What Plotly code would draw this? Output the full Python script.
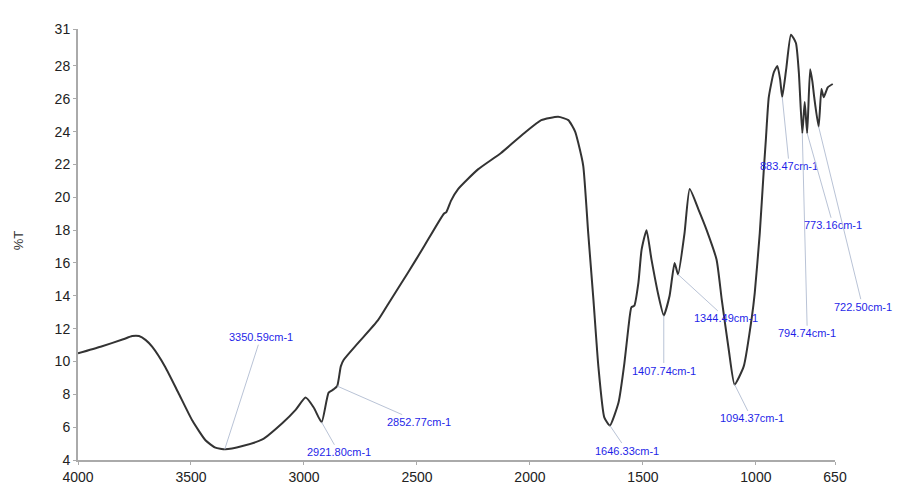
import numpy as np
import plotly.graph_objects as go

# Spectrum (wavenumber in cm-1, %T)
wavenumber = [4000, 3900, 3800, 3760, 3730, 3700, 3672, 3614, 3556, 3494, 3436, 3392, 3348,
              3272, 3184, 3095, 3037, 2993, 2957, 2921.8, 2891, 2869, 2852.77, 2837, 2824,
              2762, 2673, 2616, 2540, 2469, 2381, 2370, 2349, 2318, 2230, 2128, 2026, 1950,
              1875, 1830, 1800, 1786, 1764, 1742, 1719, 1697, 1671, 1646.33, 1608, 1582,
              1564, 1551, 1538, 1520, 1506, 1484, 1462, 1431, 1407.74, 1382, 1360, 1344.49,
              1316, 1293, 1254, 1218, 1174, 1151, 1120, 1094.37, 1054, 1018, 1005, 983, 965,
              956, 943, 921, 905, 893, 883.47, 866, 845, 823, 810, 794.74, 784, 773.16, 760,
              750, 742, 722.50, 710, 700, 682, 660]
transmittance = [10.5, 10.9, 11.35, 11.55, 11.55, 11.3, 10.9, 9.67, 8.1, 6.4, 5.2, 4.75, 4.65,
                 4.85, 5.25, 6.25, 7.05, 7.8, 7.2, 6.3, 8.1, 8.3, 8.5, 9.7, 10.1,
                 11.1, 12.5, 13.75, 15.4, 17.0, 19.0, 19.1, 19.8, 20.5, 21.7, 22.7, 23.9, 24.7,
                 24.9, 24.7, 24.0, 23.3, 21.9, 17.8, 13.75, 9.67, 6.6, 6.1, 7.5, 9.9,
                 12.1, 13.3, 13.4, 14.8, 16.8, 18.0, 16.2, 14.0, 12.8, 14.0, 16.0, 15.3,
                 17.8, 20.5, 19.25, 18.0, 16.2, 13.75, 10.7, 8.6, 9.7, 12.7, 14.2, 17.8, 21.7,
                 23.5, 26.1, 27.6, 28.0, 27.2, 26.1, 27.8, 29.9, 29.4, 27.6, 23.9, 25.8, 23.9, 27.8,
                 27.05, 26.1, 24.3, 26.6, 26.1, 26.7, 26.9]

# Peak labels
peak_wavenumbers = [3350.59, 2921.80, 2852.77, 1646.33, 1407.74, 1344.49, 1094.37,
                    883.47, 794.74, 773.16, 722.50]
peak_labels = ["3350.59cm-1", "2921.80cm-1", "2852.77cm-1", "1646.33cm-1", "1407.74cm-1",
               "1344.49cm-1", "1094.37cm-1", "883.47cm-1", "794.74cm-1", "773.16cm-1",
               "722.50cm-1"]

# Axis ticks
x_tick_vals = [4000, 3500, 3000, 2500, 2000, 1500, 1000, 650]
y_tick_vals = [4, 6, 8, 10, 12, 14, 16, 18, 20, 22, 24, 26, 28, 30.25]
y_tick_text = ["4", "6", "8", "10", "12", "14", "16", "18", "20", "22", "24", "26", "28", "31"]

# label offsets in pixels (text position relative to peak point)
label_offsets = [(36, -112), (17, 30), (82, 36), (17, 25), (0, 55), (48, 44), (17, 34),
                 (7, 69), (5, 200), (26, 92), (44, 180)]

FONT = "Liberation Sans, Arial, sans-serif"

fig = go.Figure()
fig.add_trace(go.Scatter(
    x=wavenumber, y=transmittance, mode="lines",
    line=dict(color="#333333", width=2, shape="spline", smoothing=0.5),
    hoverinfo="x+y", showlegend=False,
))

wn_rev = np.array(wavenumber[::-1], dtype=float)
tr_rev = np.array(transmittance[::-1], dtype=float)
for wn, lab, (ax, ay) in zip(peak_wavenumbers, peak_labels, label_offsets):
    yv = float(np.interp(wn, wn_rev, tr_rev))
    fig.add_annotation(
        x=wn, y=yv, text=lab, showarrow=True, arrowhead=0, arrowwidth=1,
        arrowcolor="#b9c3d6", ax=ax, ay=ay, standoff=0,
        font=dict(family=FONT, size=11, color="#1f1fe8"),
    )

fig.add_annotation(
    text="%T", xref="paper", yref="paper", x=0, y=0.51, xshift=-60, showarrow=False,
    textangle=-90, xanchor="center", yanchor="middle",
    font=dict(family=FONT, size=13, color="#333333"),
)

fig.update_layout(
    width=901, height=488,
    margin=dict(l=78, r=66, t=29, b=28, autoexpand=False),
    paper_bgcolor="white", plot_bgcolor="white",
    font=dict(family=FONT, size=13, color="#333333"),
    xaxis=dict(
        range=[4000, 650], tickvals=x_tick_vals, ticktext=[str(v) for v in x_tick_vals],
        showgrid=False, zeroline=False, showline=True, linecolor="#aaaaaa", linewidth=2,
        ticks="outside", ticklen=3, tickcolor="#aaaaaa", tickfont=dict(size=14, color="#222222"),
        automargin=False,
    ),
    yaxis=dict(
        range=[4, 30.25], tickvals=y_tick_vals, ticktext=y_tick_text,
        showgrid=False, zeroline=False, showline=True, linecolor="#aaaaaa", linewidth=2,
        ticks="outside", ticklen=3, tickcolor="#aaaaaa", tickfont=dict(size=14, color="#222222"),
        automargin=False,
    ),
)

fig.write_html("out.html", config={"displayModeBar": False},
               post_script="document.body.style.margin='0px';")
